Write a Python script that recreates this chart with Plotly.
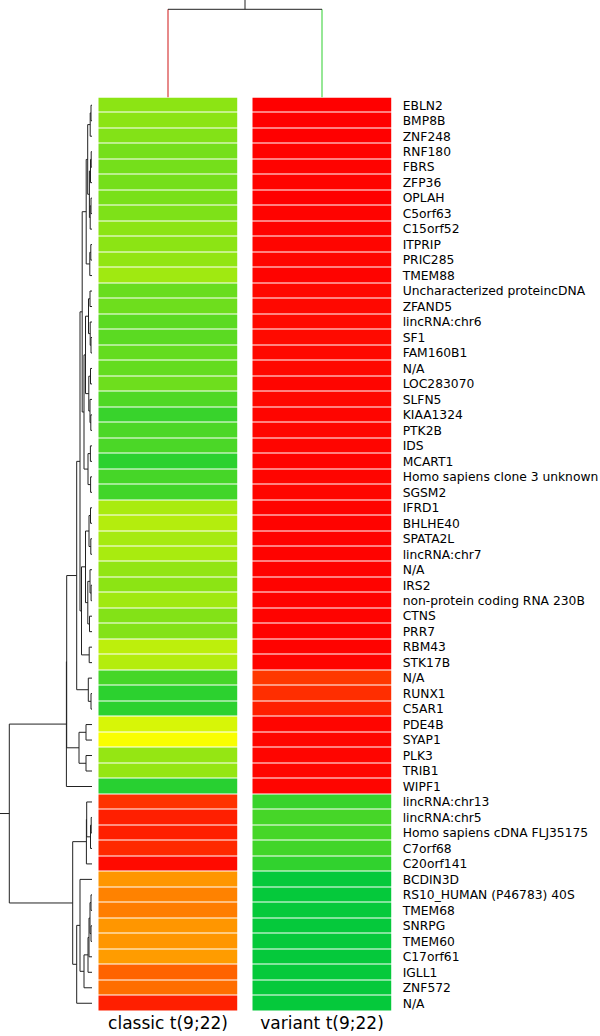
import plotly.graph_objects as go

# ---------------- data ----------------
genes = ["EBLN2", "BMP8B", "ZNF248", "RNF180", "FBRS", "ZFP36", "OPLAH", "C5orf63",
         "C15orf52", "ITPRIP", "PRIC285", "TMEM88", "Uncharacterized proteincDNA",
         "ZFAND5", "lincRNA:chr6", "SF1", "FAM160B1", "N/A", "LOC283070", "SLFN5",
         "KIAA1324", "PTK2B", "IDS", "MCART1", "Homo sapiens clone 3 unknown", "SGSM2",
         "IFRD1", "BHLHE40", "SPATA2L", "lincRNA:chr7", "N/A", "IRS2",
         "non-protein coding RNA 230B", "CTNS", "PRR7", "RBM43", "STK17B", "N/A",
         "RUNX1", "C5AR1", "PDE4B", "SYAP1", "PLK3", "TRIB1", "WIPF1", "lincRNA:chr13",
         "lincRNA:chr5", "Homo sapiens cDNA FLJ35175", "C7orf68", "C20orf141", "BCDIN3D",
         "RS10_HUMAN (P46783) 40S", "TMEM68", "SNRPG", "TMEM60", "C17orf61", "IGLL1",
         "ZNF572", "N/A"]

conditions = ["classic t(9;22)", "variant t(9;22)"]

classic_vals = [0.40, 0.40, 0.44, 0.50, 0.50, 0.50, 0.48, 0.46, 0.40, 0.40,
                0.38, 0.33, 0.55, 0.53, 0.61, 0.61, 0.57, 0.57, 0.53, 0.66,
                0.76, 0.68, 0.68, 0.81, 0.70, 0.72, 0.30, 0.26, 0.31, 0.30,
                0.38, 0.40, 0.33, 0.44, 0.44, 0.23, 0.26, 0.70, 0.81, 0.81,
                0.14, 0.02, 0.37, 0.37, 0.83, -0.80, -0.88, -0.88, -0.84, -0.96,
                -0.41, -0.49, -0.51, -0.41, -0.41, -0.39, -0.61, -0.57, -0.88]

variant_vals = [-1.00, -1.00, -1.00, -0.99, -0.99, -0.99, -1.00, -0.99, -0.99, -0.98,
                -0.98, -0.99, -0.97, -0.97, -0.96, -0.96, -0.97, -0.97, -0.98, -0.97,
                -0.98, -0.98, -0.98, -0.99, -0.98, -0.98, -0.99, -0.99, -0.99, -0.99,
                -0.99, -0.99, -0.99, -0.99, -0.99, -0.99, -0.99, -0.78, -0.82, -0.88,
                -0.98, -0.98, -0.98, -0.98, -0.98, 0.76, 0.70, 0.70, 0.72, 0.79,
                0.98, 0.98, 0.98, 0.98, 0.98, 0.98, 0.98, 0.98, 0.98]

# row clustering (leaf = row index, node = (left, right, merge distance))
row_tree = (
    (
        (
            (
                (
                    (((((0, 1, 1.0), 2, 1.8),
                       ((((3, 4, 0.8), 5, 1.5), (((6, 7, 1.0), 8, 1.8)), 2.6)), 4.3),
                      (((9, 10, 1.2), 11, 2.2)), 5.8),
                     (((((12, 13, 2.0), (14, (15, 16, 1.0), 1.8), 3.5),
                        ((17, 18, 1.5), (19, (20, 21, 1.2), 2.0), 3.2), 6.5),
                       ((22, 23, 1.6), (24, 25, 1.4), 4.0), 8.0)), 9.8),
                    ((((26, 27, 1.5), (28, 29, 1.2), 3.0),
                      ((30, (31, 32, 0.9), 2.0), (33, 34, 2.5), 4.2), 6.5),
                     (35, 36, 2.8), 10.5),
                    12.0),
                (37, (38, 39, 1.0), 3.7),
                15.3),
            ((40, 41, 6.0), (42, 43, 6.0), 13.0),
            25.3),
        44, 25.6),
    (
        ((45, ((46, 47, 0.8), 48, 1.5), 5.3), 49, 5.6),
        ((50, (((((51, 52, 1.0), (53, 54, 1.0), 2.0), 55, 3.0), 56, 4.0), 57, 8.0), 12.0), 58, 15.3),
        19.3),
    82.7)

# column clustering
col_tree = (0, 1, 88.2)

# ---------------- geometry helpers ----------------
W, H = 600, 1036
def fx(px):
    return px / W
def fy(py):
    return 1 - py / H

colorscale = [[0.0, "rgb(255,0,0)"], [0.5, "rgb(255,255,0)"],
              [0.7, "rgb(140,228,20)"], [1.0, "rgb(0,200,60)"]]

fig = go.Figure()

fig.add_trace(go.Heatmap(z=[[v] for v in classic_vals], x=[0], y=list(range(len(genes))),
                         colorscale=colorscale, zmin=-1, zmax=1, showscale=False,
                         ygap=1, xaxis="x", yaxis="y", hoverinfo="skip"))
fig.add_trace(go.Heatmap(z=[[v] for v in variant_vals], x=[0], y=list(range(len(genes))),
                         colorscale=colorscale, zmin=-1, zmax=1, showscale=False,
                         ygap=1, xaxis="x2", yaxis="y", hoverinfo="skip"))

# ---------------- dendrogram lines ----------------
def walk(node, segs):
    if isinstance(node, int):
        return float(node), 0.0
    left, right, h = node
    yl, hl = walk(left, segs)
    yr, hr = walk(right, segs)
    segs.append(((hl, h, h, hr), (yl, yl, yr, yr)))
    return (yl + yr) / 2.0, h

row_segs = []
root_y, root_h = walk(row_tree, row_segs)
xs, ys = [], []
for sx, sy in row_segs:
    xs += list(sx) + [None]
    ys += list(sy) + [None]
xs += [root_h, 92, None]
ys += [root_y, root_y, None]
fig.add_trace(go.Scatter(x=xs, y=ys, mode="lines", xaxis="x3", yaxis="y",
                         line=dict(color="#222222", width=1), hoverinfo="skip",
                         showlegend=False))

# column dendrogram
c_left, c_right, c_h = col_tree
fig.add_trace(go.Scatter(x=[c_left, c_left], y=[0, c_h], mode="lines", xaxis="x4", yaxis="y4",
                         line=dict(color="rgb(215,60,60)", width=1.2), hoverinfo="skip",
                         showlegend=False))
fig.add_trace(go.Scatter(x=[c_right, c_right], y=[0, c_h], mode="lines", xaxis="x4", yaxis="y4",
                         line=dict(color="rgb(80,215,80)", width=1.2), hoverinfo="skip",
                         showlegend=False))
fig.add_trace(go.Scatter(x=[c_left, c_right, None, (c_left + c_right) / 2, (c_left + c_right) / 2],
                         y=[c_h, c_h, None, c_h, 97.5], mode="lines", xaxis="x4", yaxis="y4",
                         line=dict(color="#222222", width=1), hoverinfo="skip",
                         showlegend=False))

font = "DejaVu Sans, Verdana, sans-serif"
xcommon = dict(range=[-0.5, 0.5], showgrid=False, zeroline=False, showline=False,
               ticks="", tickmode="array", tickvals=[0], automargin=False,
               tickfont=dict(family=font, size=17, color="black"), anchor="y", fixedrange=True)

fig.update_layout(
    width=W, height=H, margin=dict(l=0, r=0, t=0, b=0, autoexpand=False),
    paper_bgcolor="white", plot_bgcolor="white", showlegend=False,
    xaxis=dict(domain=[fx(98.3), fx(237.7)], ticktext=[conditions[0]], **xcommon),
    xaxis2=dict(domain=[fx(252.3), fx(391.7)], ticktext=[conditions[1]], **xcommon),
    yaxis=dict(domain=[fy(1011), fy(97.5)], range=[len(genes) - 0.5, -0.5],
               anchor="x2", side="right", tickmode="array", automargin=False,
               tickvals=list(range(len(genes))), ticktext=genes, ticks="",
               ticklabelstandoff=10,
               tickfont=dict(family=font, size=12.3, color="black"),
               showgrid=False, zeroline=False, showline=False, fixedrange=True),
    xaxis3=dict(domain=[0, fx(92)], range=[92, 0], visible=False, anchor="y",
                automargin=False, fixedrange=True),
    xaxis4=dict(domain=[fx(91), fx(399)], range=[-0.5, 1.5], visible=False,
                anchor="y4", automargin=False, fixedrange=True),
    yaxis4=dict(domain=[fy(97.5), 1], range=[0, 97.5], visible=False, anchor="x4",
                automargin=False, fixedrange=True),
)

fig.write_html("out.html", config={"displayModeBar": False},
               post_script="document.body.style.margin='0px';document.body.style.overflow='hidden';")
